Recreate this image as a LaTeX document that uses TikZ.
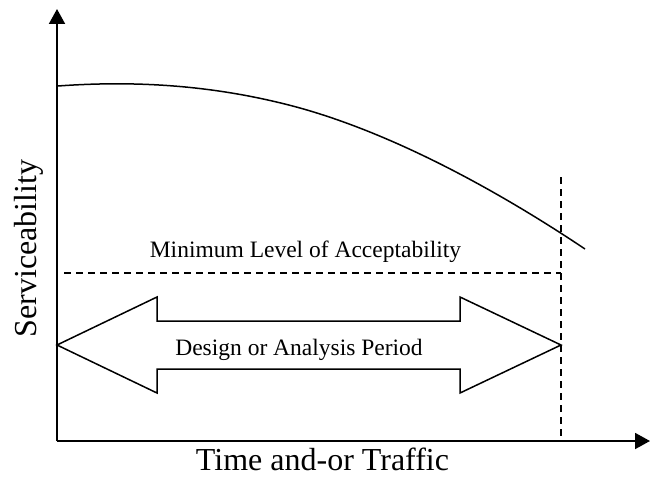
\documentclass[tikz,border=0pt]{standalone}
\usepackage{fontspec}
\setmainfont{Liberation Serif}
\usetikzlibrary{arrows.meta}
\begin{document}
\begin{tikzpicture}[x=1pt,y=-1pt,
  axis/.style={line width=1.9pt,-{Triangle[length=15pt,width=16pt]}},
  dashline/.style={line width=1.2pt,dash pattern=on 7pt off 5pt},
  outline/.style={line width=1.5pt,line join=miter},
  lbl/.style={font=\fontsize{23.5}{28}\selectfont,anchor=base,inner sep=0pt},
  biglbl/.style={font=\fontsize{32}{38}\selectfont,anchor=base,inner sep=0pt}]
\useasboundingbox (0,0) rectangle (650,484);
\coordinate (O) at (57,441);
\coordinate (Ytop) at (57,9);
\coordinate (Xend) at (650,441);
\coordinate (Vtop) at (561,177);
\coordinate (Vbot) at (561,436);
\coordinate (Hl) at (64,273);
\coordinate (Hr) at (561,273);
\coordinate (Cs) at (58,86);
\coordinate (Cm) at (300,108);
\coordinate (Ce) at (585,249);
% axes
\draw[axis] (O) -- (Ytop);
\draw[axis] (O) -- (Xend);
% dashed lines
\draw[dashline] (Vtop) -- (Vbot);
\draw[dashline] (Hl) -- (Hr);
% curve
\draw[line width=1.5pt] (Cs) .. controls (140,80) and (220,86) .. (Cm)
  .. controls (400,136) and (505,195.4) .. (Ce);
% double arrow
\draw[outline] (57,345) -- (157,297) -- (157,321) -- (460,321) -- (460,297)
  -- (561,345) -- (460,393) -- (460,369) -- (157,369) -- (157,393) -- cycle;
% labels
\node[lbl] (minlvl) at (305.5,257) {Minimum Level of Acceptability};
\node[lbl] (period) at (299,355) {Design or Analysis Period};
\node[biglbl] (xlab) at (322.5,470) {Time and-or Traffic};
\node[biglbl,rotate=90] (ylab) at (36,248.5) {Serviceability};
\end{tikzpicture}
\end{document}
